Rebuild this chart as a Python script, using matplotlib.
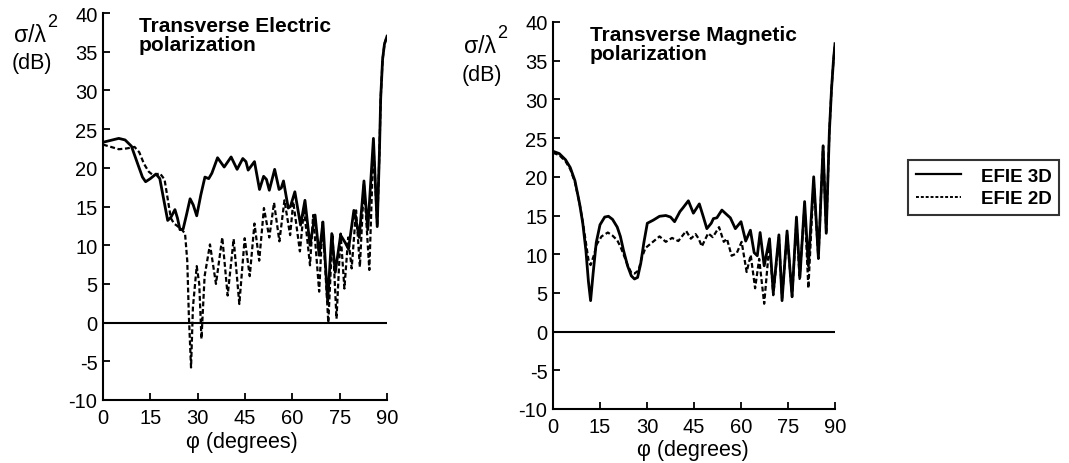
import matplotlib
matplotlib.use("Agg")
import matplotlib.pyplot as plt
from matplotlib.lines import Line2D

plt.rcParams['font.family'] = ['Liberation Sans', 'DejaVu Sans']

# ---------------- data ----------------
te3d_phi = [0, 2, 5, 7, 9, 11, 12.5, 13.5, 15, 16.8, 18, 19.2, 20.5, 21.5, 22.8, 23.6, 24.4,
            25.4, 26.5, 27.6, 28.6, 29.7, 31, 32.3, 33.5, 34.5, 36.3, 38.4, 40.6, 42.5, 44.3,
            45.3, 46, 48, 49.6, 50.9, 51.8, 52.7, 54.4, 55.8, 56.5, 57.2, 58.7, 59.4, 60.8,
            62.6, 64, 65.6, 67.2, 68.5, 69.7, 71.2, 72.5, 73.6, 75.3, 76.8, 77.8, 79.5, 80.2,
            81.2, 82.7, 83.9, 85.7, 86.9, 87.6, 88.0, 88.6, 89.2, 90]
te3d_val = [23.3, 23.5, 23.8, 23.6, 22.8, 20.5, 18.8, 18.2, 18.6, 19.2, 18.6, 16.0, 13.2, 13.6,
            14.6, 13.5, 12.0, 12.1, 14.0, 16.0, 15.2, 13.8, 16.5, 18.8, 18.6, 19.3, 21.3, 20.1,
            21.4, 19.8, 21.2, 20.8, 19.7, 20.8, 17.2, 18.9, 18.5, 17.1, 19.8, 17.2, 17.4, 18.3,
            14.8, 15.0, 16.9, 12.6, 15.8, 10.0, 13.9, 8.7, 13.0, 2.7, 11.5, 6.5, 11.3, 10.3,
            9.5, 14.5, 13.2, 11.0, 18.3, 12.0, 23.8, 12.4, 22.0, 29.0, 34.0, 36.0, 37.0]

te2d_phi = [0, 2.5, 5, 7.5, 10, 11.5, 13, 14.5, 16, 18, 19.5, 20.5, 21.5, 22.5, 23.5, 25, 26,
            26.7, 27.2, 27.9, 28.5, 29.7, 30.5, 31.2, 32.2, 33.9, 35.8, 37.8, 39.5, 41.4, 43.2,
            44.9, 46.5, 48, 49.5, 51, 52.7, 54.2, 55.9, 57.5, 59.3, 60.3, 62.4, 63.7, 65.6,
            66.6, 68.5, 69.6, 71.4, 72.7, 74.0, 75.3, 76.5, 77.7, 78.8, 80.2, 81.4, 82.7, 84.4,
            85.7, 86.9, 87.6, 88.0, 88.6, 89.2, 90]
te2d_val = [23.0, 22.7, 22.4, 22.5, 22.7, 22.0, 20.5, 19.5, 19.0, 19.3, 18.5, 16.0, 13.5, 12.8,
            12.5, 12.0, 11.5, 8.0, 1.0, -5.8, 2.0, 7.3, 5.0, -2.1, 6.0, 10.1, 5.0, 11.0, 3.5,
            10.8, 2.4, 10.9, 6.0, 12.8, 8.0, 14.8, 11.0, 15.5, 10.5, 15.8, 11.3, 15.6, 9.2,
            14.7, 7.4, 13.9, 4.0, 13.0, 0.0, 11.5, 0.5, 11.5, 4.4, 11.0, 7.0, 14.5, 7.2, 18.0,
            6.8, 23.0, 12.4, 22.0, 29.0, 34.0, 36.0, 37.0]

tm3d_phi = [0, 2, 4, 5.5, 7, 8.5, 9.5, 10.5, 11.3, 12, 12.8, 13.8, 15, 16.5, 17.7, 19, 20.5,
            21.5, 22.5, 23.8, 25, 26, 27, 28, 29, 30.1, 32, 34, 36, 37.5, 38.8, 40.5, 41.5,
            43.2, 44.8, 46.7, 48, 49.1, 50.5, 51.2, 52.3, 53.9, 55.5, 56.6, 58.2, 60, 61.5,
            63, 64.2, 65.2, 66.1, 67.4, 69.1, 70.3, 72.1, 73.1, 74.7, 76.3, 77.7, 78.8, 80.3,
            81.5, 83.2, 84.7, 86.2, 87.2, 88.2, 88.9, 89.5, 90]
tm3d_val = [23.3, 23.0, 22.2, 21.2, 19.5, 16.5, 14.0, 10.5, 6.5, 4.0, 7.5, 11.5, 13.8, 14.8,
            14.9, 14.5, 13.5, 12.3, 10.5, 8.5, 7.2, 6.8, 7.0, 8.8, 11.5, 14.0, 14.4, 14.9, 15.0,
            14.8, 14.2, 15.5, 16.0, 16.9, 15.3, 16.5, 14.8, 13.3, 14.0, 14.6, 14.7, 15.7, 15.1,
            14.7, 13.3, 14.2, 11.7, 13.1, 10.2, 9.8, 12.8, 8.5, 12.0, 5.0, 12.5, 4.0, 13.0,
            4.5, 14.8, 7.0, 16.8, 8.5, 20.0, 9.5, 24.0, 12.7, 25.8, 31.4, 35.0, 37.2]

tm2d_phi = [0, 2, 4, 5.5, 7, 8.5, 9.5, 10.5, 11.3, 12, 13, 14, 15.5, 17.5, 19, 20.5, 21.5,
            22.5, 23.8, 25, 26, 27.3, 28.3, 29.5, 31, 32.5, 34, 36, 38, 40, 42.5, 44, 45.5,
            46.5, 47.5, 49.5, 51, 53, 54.5, 55.5, 57, 58.6, 60.2, 61.8, 63.1, 64.5, 65.8, 67.4,
            69.1, 70.3, 72.1, 73.1, 74.7, 76.3, 77.7, 78.7, 80.3, 81.5, 83.2, 84.7, 86.2, 87.2,
            88.2, 88.9, 89.5, 90]
tm2d_val = [23.1, 22.8, 22.0, 21.0, 19.3, 16.5, 14.2, 11.5, 9.3, 8.6, 9.8, 11.3, 12.3, 12.8,
            12.4, 11.8, 11.0, 10.0, 8.6, 7.6, 7.5, 7.9, 9.5, 10.8, 11.3, 11.8, 12.3, 11.6, 12.1,
            11.7, 13.0, 12.0, 12.6, 12.0, 11.0, 12.7, 12.2, 13.5, 11.6, 12.0, 9.8, 10.1, 11.6,
            7.7, 9.9, 5.6, 9.4, 3.6, 11.5, 4.7, 12.2, 4.3, 12.7, 4.5, 14.3, 6.8, 16.3, 5.6,
            19.5, 9.4, 24.0, 12.7, 25.8, 31.4, 35.0, 37.2]

xticks = [0, 15, 30, 45, 60, 75, 90]
yticks = [-10, -5, 0, 5, 10, 15, 20, 25, 30, 35, 40]
titles = ["Transverse Electric\npolarization", "Transverse Magnetic\npolarization"]
legend_labels = ["EFIE 3D", "EFIE 2D"]

# ---------------- figure ----------------
W, H = 1069, 464
fig = plt.figure(figsize=(W / 100, H / 100), dpi=100)

def px_box(x0, y_top, x1, y_bot):
    return [x0 / W, 1 - y_bot / H, (x1 - x0) / W, (y_bot - y_top) / H]

ax1 = fig.add_axes(px_box(103, 14, 387, 401))
ax2 = fig.add_axes(px_box(553, 23, 835, 410))

dash = (0, (2.2, 1.2))
for ax, (p3, v3, p2, v2) in zip(
        [ax1, ax2],
        [(te3d_phi, te3d_val, te2d_phi, te2d_val),
         (tm3d_phi, tm3d_val, tm2d_phi, tm2d_val)]):
    ax.axhline(0, color='black', lw=1.5, zorder=1)
    ax.plot(p2, v2, color='black', lw=1.6, linestyle=dash, zorder=2)
    ax.plot(p3, v3, color='black', lw=2.0, zorder=3)
    ax.set_xlim(0, 90)
    ax.set_ylim(-10, 40)
    ax.set_xticks(xticks)
    ax.set_yticks(yticks)
    ax.set_xticklabels([str(t) for t in xticks])
    ax.set_yticklabels([str(t) for t in yticks])
    for s in ['top', 'right']:
        ax.spines[s].set_visible(False)
    for s in ['left', 'bottom']:
        ax.spines[s].set_linewidth(1.5)
    ax.tick_params(direction='in', length=5, width=1.3, labelsize=14.5)
    ax.tick_params(axis='x', pad=6)
    ax.tick_params(axis='y', pad=4)
    ax.set_facecolor('none')

# titles
fig.text(139 / W, 1 - 17 / H, titles[0], fontsize=15, fontweight='bold',
         ha='left', va='top', linespacing=1.0)
fig.text(590 / W, 1 - 26 / H, titles[1], fontsize=15, fontweight='bold',
         ha='left', va='top', linespacing=1.0)

# y labels
for (cx, base) in [(30, 42), (480, 53)]:
    fig.text(cx / W, 1 - base / H, "σ/λ", fontsize=16.5, ha='center', va='baseline')
    fig.text((cx + 22) / W, 1 - (base - 15) / H, "2", fontsize=13, ha='center', va='baseline')
    fig.text((cx + 2) / W, 1 - (base + 22) / H, "(dB)", fontsize=15.5, ha='center', va='center')

# x labels
fig.text(242 / W, 1 - 443 / H, "φ (degrees)", fontsize=15.5, ha='center', va='center')
fig.text(693 / W, 1 - 451 / H, "φ (degrees)", fontsize=15.5, ha='center', va='center')

# legend
handles = [Line2D([], [], color='black', lw=1.6),
           Line2D([], [], color='black', lw=1.4, linestyle=(0, (1.5, 1.0)))]
leg = fig.legend(handles, legend_labels, loc='upper left',
                 bbox_to_anchor=(908 / W, 1 - 161 / H), borderaxespad=0,
                 frameon=True, fancybox=False, edgecolor='black',
                 prop={'weight': 'bold', 'size': 13.5}, handlelength=2.4,
                 handletextpad=1.1, labelspacing=0.3, borderpad=0.4)
leg.get_frame().set_linewidth(1.5)

fig.savefig("out.png", dpi=100)
